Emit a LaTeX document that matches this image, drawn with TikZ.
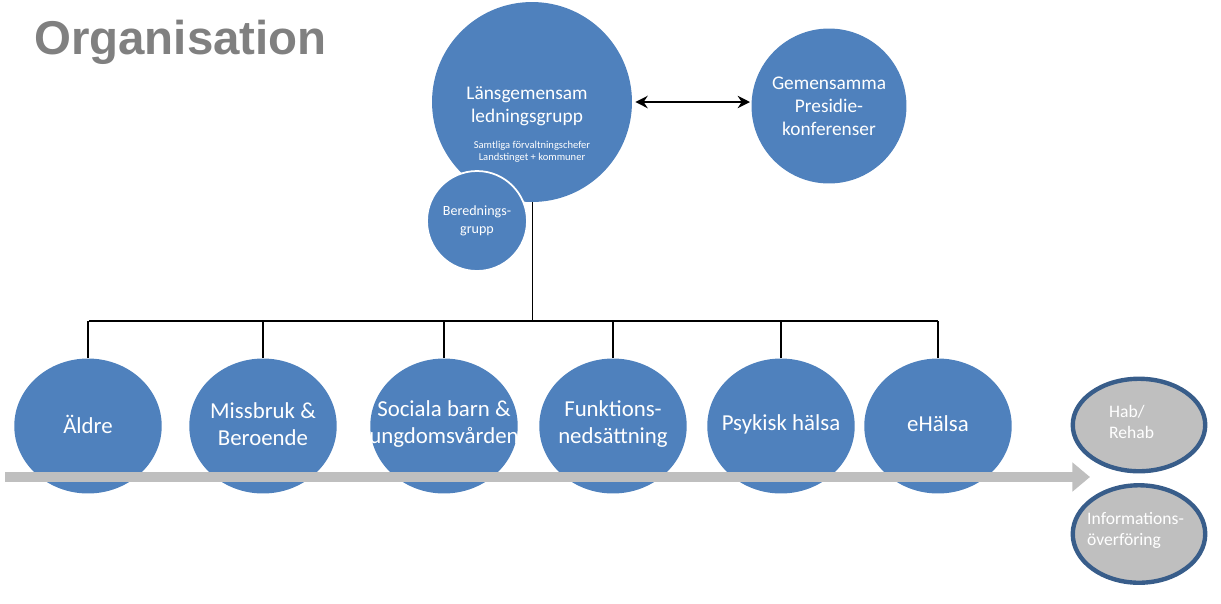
\documentclass[tikz,border=0pt]{standalone}
\usepackage{fontspec}
\setmainfont{Carlito}
\newfontfamily\titlefont{Liberation Sans}
\usetikzlibrary{arrows.meta, shapes.geometric}
\definecolor{blu}{HTML}{4F81BD}
\definecolor{ljgray}{HTML}{BFBFBF}
\definecolor{edgeblu}{HTML}{385D8A}
\tikzset{
    ball/.style = {ellipse, fill = blu, inner sep = 0pt},
    side/.style = {ellipse, fill = ljgray, draw = edgeblu, line width = 2.5pt, inner sep = 0pt},
    txt/.style = {text = white, align = center}
}
\begin{document}
\begin{tikzpicture}[x = 0.02cm, y = -0.02cm]

        \useasboundingbox (0, 0) rectangle (1221, 603);

        \node[anchor = west, text = gray, font = \titlefont\bfseries\fontsize{27}{27}\selectfont] (title) at (28, 42) {Organisation};

        \node[ball, circle, minimum size = 4cm] (lans) at (532, 102) {};
        \node[txt, font = \fontsize{11}{13}\selectfont] (lanst) at (527, 106) {Länsgemensam\\ledningsgrupp};
        \node[txt, font = \fontsize{6}{7}\selectfont] (lanss) at (532, 152) {Samtliga förvaltningschefer\\Landstinget + kommuner};

        \node[ball, circle, minimum size = 3.1cm] (pres) at (829, 106) {};
        \node[txt, font = \fontsize{11}{13}\selectfont] (prest) at (pres) {Gemensamma\\Presidie-\\konferenser};

        \draw[{Stealth[length = 7pt, width = 7pt]}-{Stealth[length = 7pt, width = 7pt]}, line width = 1.5pt] (lans.east) ++(3, 0) coordinate (aa) -- (750, 102) coordinate (bb);

        \node[ball, circle, minimum size = 2cm, draw = white, line width = 1pt] (bered) at (477, 221) {};
        \node[txt, font = \fontsize{8}{10}\selectfont] (beredt) at (bered) {Berednings-\\grupp};

        \coordinate (hub) at (532, 320);
        \draw (lans.south) -- (hub);
        \draw[line width = 1.5pt] (89, 321) -- (938, 321);

        \foreach \x/\nm/\txt in {88/aldre/Äldre, 263/miss/Missbruk \&\\Beroende, 444/soc/Sociala barn \&\\ungdomsvården, 613/funk/Funktions-\\nedsättning, 781/psyk/Psykisk hälsa, 938/ehal/eHälsa}{
                \node[ball, minimum width = 2.95cm, minimum height = 2.7cm] (\nm) at (\x, 426) {};
                \node[txt, font = \fontsize{13}{15}\selectfont] (\nm t) at (\x, 424) {\txt};
                \draw[line width = 1.5pt] (\nm.north) -- (\x, 321);
            }

        \draw[-{Triangle[length = 10pt, width = 16pt]}, ljgray, line width = 6pt] (5, 477) -- (1090, 477);

        \node[side, minimum width = 2.65cm, minimum height = 1.85cm] (hab) at (1139, 425) {};
        \node[txt, align = left, anchor = west, font = \fontsize{10}{12}\selectfont] (habt) at (1103, 422) {Hab/\\Rehab};
        \node[side, minimum width = 2.65cm, minimum height = 1.95cm] (info) at (1139, 534) {};
        \node[txt, align = left, anchor = west, font = \fontsize{10}{12}\selectfont] (infot) at (1081, 530) {Informations-\\överföring};

    \end{tikzpicture}
\end{document}
